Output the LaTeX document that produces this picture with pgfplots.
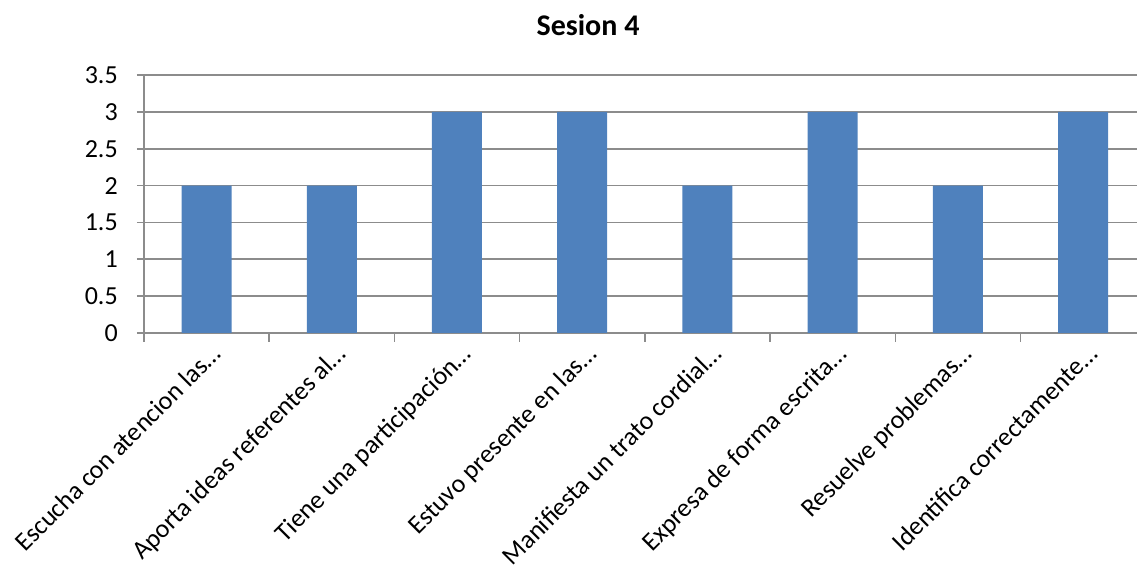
\documentclass[border=0pt]{standalone}
\usepackage{pgfplots}
\pgfplotsset{compat=1.18}
\usepackage{fontspec}
\setmainfont{Carlito}
\definecolor{barblue}{HTML}{4F81BD}
\definecolor{gridgray}{HTML}{8C8C8C}
\begin{document}
\begin{tikzpicture}[x=1pt,y=1pt]
\begin{axis}[
  at={(143.9pt,236pt)}, anchor=south west,
  scale only axis, width=993.1pt, height=258pt,
  xmin=-0.5, xmax=7.43, ymin=0, ymax=3.5,
  axis x line=bottom, axis y line=left,
  axis line style={-, draw=gridgray, line width=1.6pt},
  ymajorgrids, grid style={gridgray, line width=1.6pt},
  ytick={0,0.5,1,1.5,2,2.5,3,3.5},
  yticklabels={0,0.5,1,1.5,2,2.5,3,3.5},
  tick align=outside,
  major tick length=7pt,
  tick style={gridgray, line width=1.6pt},
  xtick={0,1,2,3,4,5,6,7},
  xticklabels={Escucha con atencion las…, Aporta ideas referentes al…, Tiene una participación…, Estuvo presente en las…, Manifiesta un trato cordial…, Expresa de forma escrita…, Resuelve problemas…, Identifica correctamente…},
  xtick style={draw=none},
  extra x ticks={-0.5,0.5,1.5,2.5,3.5,4.5,5.5,6.5},
  extra x tick labels={},
  extra x tick style={xtick style={draw=gridgray, line width=1.6pt}, major tick length=9pt, grid=none},
  xticklabel style={font=\fontsize{26}{30}\selectfont, rotate=45, anchor=north east, inner sep=0pt, yshift=-4pt},
  yticklabel style={font=\fontsize{26}{30}\selectfont, anchor=east, inner sep=0pt, xshift=-19pt},
  /pgf/number format/assume math mode=true,
]
\addplot[ybar, bar width=50pt, fill=barblue, draw=none] coordinates {
  (0,2) (1,2) (2,3) (3,3) (4,2) (5,3) (6,2) (7,3)
};
\end{axis}
\node[font=\fontsize{30}{34}\selectfont\bfseries] at (588pt,544pt) {Sesion 4};
\pgfresetboundingbox
\path[use as bounding box] (0,0) rectangle (1137pt,569pt);
\end{tikzpicture}
\end{document}
